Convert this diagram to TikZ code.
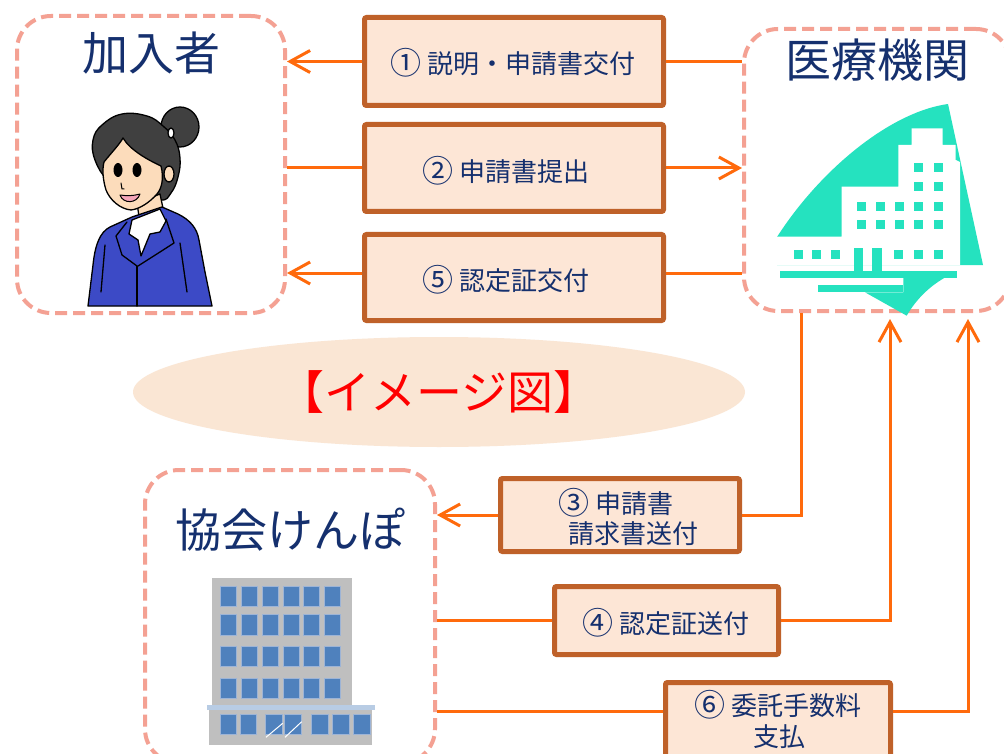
\documentclass[tikz,border=0pt]{standalone}
\usepackage{fontspec}
\setmainfont{Noto Sans CJK JP}
\usetikzlibrary{arrows.meta,shapes.geometric}

\definecolor{navy}{HTML}{15306E}
\definecolor{dashpink}{HTML}{F4A193}
\definecolor{labelfill}{HTML}{FDE6D6}
\definecolor{labeledge}{HTML}{BF6129}
\definecolor{flowline}{HTML}{FF6A0C}
\definecolor{ovalfill}{HTML}{FAE6D4}
\definecolor{hospteal}{HTML}{25E2BF}
\definecolor{bldgray}{HTML}{BFBFBF}
\definecolor{winblue}{HTML}{4F81BD}
\definecolor{winedge}{HTML}{9DB4D6}
\definecolor{bandblue}{HTML}{B8CCE4}
\definecolor{hairgray}{HTML}{404040}
\definecolor{skin}{HTML}{FCDCBB}
\definecolor{jacket}{HTML}{3C4AC6}
\definecolor{mouthpink}{HTML}{F5A5B9}

% circled step numbers, set a little larger than the text beside them
\newcommand\stepno[1]{\raisebox{-1.5pt}{\fontsize{31}{31}\selectfont #1}}

\begin{document}
\begin{tikzpicture}[x=1pt,y=-1pt,
  party/.style={rectangle, draw=dashpink, line width=4pt, dash pattern=on 12pt off 6pt,
    rounded corners=34pt, inner sep=0pt},
  stepbox/.style={rectangle, draw=labeledge, fill=labelfill, line width=5pt,
    rounded corners=2pt, inner sep=0pt},
  steptext/.style={inner sep=0pt, text=navy, font=\fontsize{26}{30}\selectfont},
  title/.style={inner sep=0pt, text=navy, font=\fontsize{46}{50}\selectfont},
  wire/.style={draw=flowline, line width=3pt},
  arrowwire/.style={wire, -{Straight Barb[length=20pt,width=22pt]}},
  outline/.style={draw=black, line width=1.3pt, line join=round, line cap=round},
]
\useasboundingbox (0,0) rectangle (1004,754);
\clip (0,0) rectangle (1004,754);
\fill[white] (0,0) rectangle (1004,754);

% ---------- central banner ----------
\node[ellipse, fill=ovalfill, minimum width=612pt, minimum height=110pt, inner sep=0pt,
      text=red, font=\fontsize{46}{48}\selectfont] (banner) at (439,392) {【イメージ図】};

% ---------- the three parties ----------
\node[party, minimum width=268pt, minimum height=297pt] (member) at (151,164.5) {};
\node[party, minimum width=266pt, minimum height=282pt] (clinic) at (877,170) {};
\node[party, minimum width=290pt, minimum height=293pt] (kyokai) at (290,616.5) {};

\node[title] (tmember) at (151,53) {加入者};
\node[title] (tclinic) at (877,60) {医療機関};
\node[title] (tkyokai) at (290,530) {協会けんぽ};

% ---------- step boxes ----------
\node[stepbox, minimum width=299pt, minimum height=88pt] (box1) at (514,61.5) {};
\node[stepbox, minimum width=299pt, minimum height=87pt] (box2) at (514,168) {};
\node[stepbox, minimum width=299pt, minimum height=86pt] (box5) at (514,277.5) {};
\node[stepbox, minimum width=239pt, minimum height=73pt] (box3) at (620,515) {};
\node[stepbox, minimum width=224pt, minimum height=68pt] (box4) at (666.5,620.5) {};
\node[stepbox, minimum width=225pt, minimum height=77pt] (box6) at (778,721) {};

\node[steptext] (l1) at (513,63) {\stepno{①} 説明・申請書交付};
\node[steptext] (l2) at (506,171) {\stepno{②} 申請書提出};
\node[steptext] (l5) at (506,280) {\stepno{⑤} 認定証交付};
\node[steptext] (l3a) at (616,503) {\stepno{③} 申請書};
\node[steptext] (l3b) at (633,534) {請求書送付};
\node[steptext] (l4) at (666,623) {\stepno{④} 認定証送付};
\node[steptext] (l6a) at (778,705) {\stepno{⑥} 委託手数料};
\node[steptext] (l6b) at (779,737) {支払};

% ---------- connectors ----------
\coordinate (r5) at (742,273);
\coordinate (c3) at (801,313);
\coordinate (c4) at (890,319);
\coordinate (c6) at (968,319);
\coordinate (k6) at (437,711);

\draw[arrowwire] (box1.west) -- (box1.west -| member.east);
\draw[wire] (box1.east) -- (box1.east -| clinic.west);
\draw[wire] (box2.west -| member.east) -- (box2.west);
\draw[arrowwire] (box2.east) -- (box2.east -| clinic.west);
\draw[wire] (r5 -| clinic.west) -- (r5 -| box5.east);
\draw[arrowwire] (r5 -| box5.west) -- (r5 -| member.east);

\draw[wire] (c3) |- (box3.east);
\draw[arrowwire] (box3.west) -- (box3.west -| kyokai.east);
\draw[wire] (box4.west -| kyokai.east) -- (box4.west);
\draw[arrowwire] (box4.east) -| (c4);
\draw[wire] (k6 -| kyokai.east) -- (k6 -| box6.west);
\draw[arrowwire] (k6 -| box6.east) -| (c6);

% ---------- woman ----------
\draw[outline, fill=hairgray] (180,127) ellipse [x radius=19, y radius=20];
\draw[outline, fill=hairgray] plot[smooth cycle, tension=0.7] coordinates
  {(95,160) (93,140) (102,125) (122,114) (147,116) (163,126) (175,140) (180,158)
   (178,177) (171,193) (160,200) (130,190) (108,180)};
\draw[outline, fill=white] (171,133) ellipse [x radius=3, y radius=5];
\draw[outline, fill=skin] (169,174) ellipse [x radius=5, y radius=8];
\draw[outline, fill=skin] (137,203) -- (160,194) -- (164,213) -- (140,223) -- cycle;
\draw[outline, fill=skin] (104,162) .. controls (112,152) and (119,145) .. (123,138)
  .. controls (130,150) and (148,160) .. (161,166)
  .. controls (164,178) and (162,188) .. (157,194)
  .. controls (150,202) and (140,209) .. (131,210)
  .. controls (120,209) and (110,200) .. (106,190)
  .. controls (103,180) and (102,170) .. (104,162) -- cycle;
\fill (118,170) ellipse [x radius=4.5, y radius=7];
\fill (137,170) ellipse [x radius=4.5, y radius=7];
\draw[outline, line width=1pt] (121,183) -- (122,189) -- (124,189);
\draw[outline, line width=1pt, fill=mouthpink] (120,195) .. controls (123,204) and (137,204) .. (140,194)
  .. controls (133,196) and (127,196) .. (120,195) -- cycle;
\draw[outline, fill=jacket] (88,306) -- (93,265) .. controls (95,245) and (100,232) .. (110,227)
  -- (132,217) -- (162,207) -- (178,214) .. controls (190,220) and (197,228) .. (199,240)
  -- (205,272) -- (212,306) -- cycle;
\draw[outline, fill=white] (132,220) -- (160,209) -- (166,221) -- (160,232) -- (150,234)
  -- (141,256) -- (138,240) -- (129,234) -- cycle;
\draw[outline] (127,222) -- (116,236) -- (122,255) -- (137,266);
\draw[outline] (166,219) -- (174,243) -- (160,252) -- (138,266);
\draw[outline] (137,266) -- (137,306);
\draw[outline] (105,245) -- (101,292);
\draw[outline] (180,243) -- (187,292);

% ---------- hospital ----------
\fill[hospteal] (777,237) .. controls (820,170) and (890,112) .. (948,104)
  -- (983,265) -- (777,265) -- cycle;
\fill[white] (776.7,236.7) -- (841.7,236.7) -- (841.7,186.7) -- (898.3,186.7) -- (898.3,145)
  -- (911.7,145) -- (911.7,128.3) -- (942.7,128.3) -- (942.7,145) -- (955.7,145)
  -- (955.7,160) -- (960,162) -- (960,265) -- (776.7,265) -- cycle;
\foreach \wx in {914,934}
  \foreach \wy in {163.3,182.3}
    \fill[hospteal] (\wx,\wy) rectangle ++(9,9);
\foreach \wx in {856.7,876,895,914,934}
  \foreach \wy in {201.7,220}
    \fill[hospteal] (\wx,\wy) rectangle ++(9,9);
\foreach \wx in {794,812.3,831,894,914,934}
  \fill[hospteal] (\wx,250) rectangle ++(9,9);
\fill[hospteal] (854.3,247.7) rectangle (863.3,272);
\fill[hospteal] (871.7,247.7) rectangle (881.7,272);
\fill[hospteal] (780,271) rectangle (956.7,278.3);
\fill[hospteal] (818.3,285) rectangle (903.3,292.3);
\fill[hospteal] (865,292.3) -- (906.7,315.7) .. controls (918,296) and (935,281) .. (956.7,271.7)
  -- (903.3,271) -- (903.3,292.3) -- cycle;
\fill[white] (818.3,278.3) rectangle (903.3,285);

% ---------- office building ----------
\fill[bldgray] (212,577.7) rectangle (352.3,707);
\fill[bldgray] (209,709) rectangle (372.3,745);
\fill[bandblue] (206.7,705) rectangle (375,709.5);
\foreach \wx in {220,241,262,283,303,324}
  \foreach \wy/\wh in {586/20,614.3/20.7,646/20.7,678.3/20}
    \filldraw[fill=winblue, draw=winedge, line width=0.7pt] (\wx,\wy) rectangle ++(16,\wh);
\foreach \wx/\ww in {220/16.7,240/16,265/17.7,284/17.7,311.7/16.6,332.7/16.3,353.3/16.7}
  \filldraw[fill=winblue, draw=winedge, line width=0.7pt] (\wx,714) rectangle ++(\ww,20);
\draw[white, line width=1pt] (266,737.3) -- (282.7,723.3);
\draw[white, line width=1pt] (285,737.3) -- (301.7,721.7);

\end{tikzpicture}
\end{document}
